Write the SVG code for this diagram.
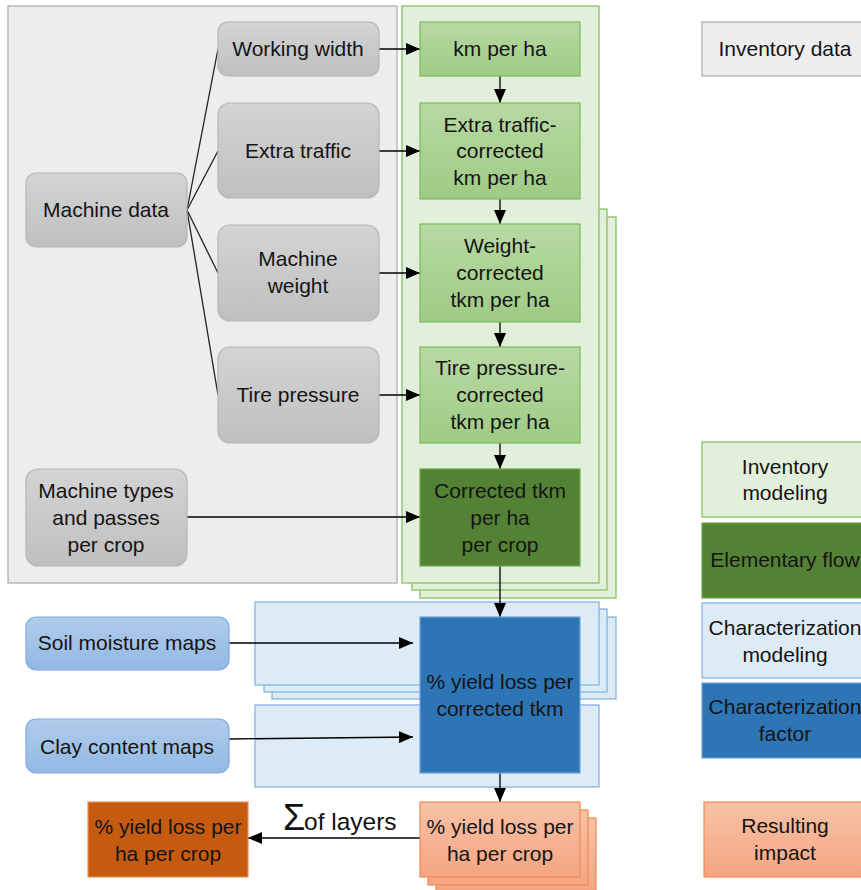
<svg xmlns="http://www.w3.org/2000/svg" width="861" height="890" viewBox="0 0 861 890">
<defs>
<linearGradient id="gGray" x1="0" y1="0" x2="0" y2="1"><stop offset="0" stop-color="#D4D4D4"/><stop offset="1" stop-color="#BFBFBF"/></linearGradient>
<linearGradient id="gGreen" x1="0" y1="0" x2="0" y2="1"><stop offset="0" stop-color="#B7D9A3"/><stop offset="1" stop-color="#9FCB84"/></linearGradient>
<linearGradient id="gBlue" x1="0" y1="0" x2="0" y2="1"><stop offset="0" stop-color="#B0CDEC"/><stop offset="1" stop-color="#92B8E3"/></linearGradient>
<linearGradient id="gOrange" x1="0" y1="0" x2="0" y2="1"><stop offset="0" stop-color="#F8C2A6"/><stop offset="1" stop-color="#F4A582"/></linearGradient>
<marker id="arr" markerUnits="userSpaceOnUse" markerWidth="14" markerHeight="12" viewBox="0 0 14 12" refX="14" refY="6" orient="auto"><path d="M0,0 L14,6 L0,12 z" fill="#000"/></marker>
</defs>
<style>
text{font-family:"Liberation Sans",Arial,sans-serif;font-size:21px;fill:#141414;text-anchor:middle}
.panelGray{fill:#EDEDED;stroke:#A9A9A9;stroke-width:1.2}
.panelGreen{fill:#E2EFDA;stroke:#86C263;stroke-width:1.3}
.panelBlue{fill:#DDEBF7;stroke:#7EB0E0;stroke-width:1.2}
.nGray{fill:url(#gGray);stroke:#B5B5B5;stroke-width:1.2}
.nGreen{fill:url(#gGreen);stroke:#7CBB5A;stroke-width:1.2}
.nDarkGreen{fill:#548235;stroke:#6DA94A;stroke-width:1.2}
.nBlue{fill:url(#gBlue);stroke:#7EAADB;stroke-width:1.2}
.nDarkBlue{fill:#2E75B6;stroke:#6FA3D8;stroke-width:1.2}
.nOrange{fill:url(#gOrange);stroke:#F08A52;stroke-width:1.2}
.nDarkOrange{fill:#C55A11;stroke:#F08A52;stroke-width:1.2}
.legGray{fill:#EDEDED;stroke:#A9A9A9;stroke-width:1.2}
.line{stroke:#222;stroke-width:1.3;fill:none}
.arrow{stroke:#000;stroke-width:1.3;fill:none;marker-end:url(#arr)}
.sum{text-anchor:start;fill:#111}
</style>

<g id="panels">
<rect class="panelGray" x="8" y="6" width="389" height="577"/>
<rect class="panelGreen" x="420" y="217" width="196" height="381"/>
<rect class="panelGreen" x="412" y="209" width="195" height="381"/>
<rect class="panelGreen" x="402" y="6" width="197" height="577"/>
<rect class="panelBlue" x="272" y="617" width="344" height="82"/>
<rect class="panelBlue" x="264" y="609" width="343" height="83"/>
<rect class="panelBlue" x="255" y="602" width="344" height="83"/>
<rect class="panelBlue" x="255" y="705" width="344" height="82"/>
</g>

<g id="connectors">
<path class="line" d="M187,210 L218,49"/>
<path class="line" d="M187,210 L218,151"/>
<path class="line" d="M187,210 L218,273"/>
<path class="line" d="M187,210 L218,395"/>
<path class="arrow" d="M379,49 L420,49"/>
<path class="arrow" d="M379,151 L420,151"/>
<path class="arrow" d="M379,273 L420,273"/>
<path class="arrow" d="M379,395 L420,395"/>
<path class="arrow" d="M187,517 L420,517"/>
<path class="arrow" d="M500,76 L500,103"/>
<path class="arrow" d="M500,199 L500,224"/>
<path class="arrow" d="M500,322 L500,347"/>
<path class="arrow" d="M500,443 L500,469"/>
<path class="arrow" d="M500,566 L500,617"/>
<path class="arrow" d="M500,773 L500,802"/>
<path class="arrow" d="M229,643 L413,643"/>
<path class="arrow" d="M229,739 L413,737"/>
<path class="arrow" d="M420,838 L248,838"/>
<text class="sum" x="283" y="830" style="font-size:36px">Σ</text>
<text class="sum" x="304" y="830" style="font-size:24.5px">of layers</text>
</g>

<g id="machine-data"><rect class="nGray" x="26" y="173" width="161" height="74" rx="10"/><text x="106" y="217">Machine data</text></g>
<g id="working-width"><rect class="nGray" x="218" y="22" width="161" height="54" rx="10"/><text x="298" y="56">Working width</text></g>
<g id="extra-traffic"><rect class="nGray" x="218" y="103" width="161" height="95" rx="12"/><text x="298" y="158">Extra traffic</text></g>
<g id="machine-weight"><rect class="nGray" x="218" y="225" width="161" height="96" rx="12"/><text x="298" y="266">Machine</text><text x="298" y="293">weight</text></g>
<g id="tire-pressure"><rect class="nGray" x="218" y="347" width="161" height="96" rx="12"/><text x="298" y="402">Tire pressure</text></g>
<g id="machine-types"><rect class="nGray" x="26" y="469" width="161" height="97" rx="12"/><text x="106" y="498">Machine types</text><text x="106" y="525">and passes</text><text x="106" y="552">per crop</text></g>

<g id="km-per-ha"><rect class="nGreen" x="420" y="22" width="160" height="54"/><text x="500" y="56">km per ha</text></g>
<g id="extra-corrected"><rect class="nGreen" x="420" y="103" width="160" height="96"/><text x="500" y="132">Extra traffic-</text><text x="500" y="158">corrected</text><text x="500" y="185">km per ha</text></g>
<g id="weight-corrected"><rect class="nGreen" x="420" y="224" width="160" height="98"/><text x="500" y="253">Weight-</text><text x="500" y="280">corrected</text><text x="500" y="307">tkm per ha</text></g>
<g id="tire-corrected"><rect class="nGreen" x="420" y="347" width="160" height="96"/><text x="500" y="375">Tire pressure-</text><text x="500" y="402">corrected</text><text x="500" y="429">tkm per ha</text></g>
<g id="corrected-tkm"><rect class="nDarkGreen" x="420" y="469" width="160" height="97"/><text x="500" y="498">Corrected tkm</text><text x="500" y="525">per ha</text><text x="500" y="552">per crop</text></g>

<g id="soil-moisture"><rect class="nBlue" x="26" y="617" width="203" height="53" rx="10"/><text x="127" y="650">Soil moisture maps</text></g>
<g id="clay-content"><rect class="nBlue" x="26" y="719" width="203" height="54" rx="10"/><text x="127" y="754">Clay content maps</text></g>
<g id="yield-loss-tkm"><rect class="nDarkBlue" x="420" y="617" width="160" height="156"/><text x="500" y="689">% yield loss per</text><text x="500" y="716">corrected tkm</text></g>

<g id="yield-loss-layers">
<rect class="nOrange" x="436" y="818" width="160" height="75"/>
<rect class="nOrange" x="428" y="810" width="160" height="75"/>
<rect class="nOrange" x="420" y="802" width="160" height="75"/>
<text x="500" y="834">% yield loss per</text><text x="500" y="861">ha per crop</text></g>
<g id="yield-loss-total"><rect class="nDarkOrange" x="88" y="802" width="160" height="75"/><text x="168" y="834">% yield loss per</text><text x="168" y="861">ha per crop</text></g>

<g id="legend-inventory-data"><rect class="legGray" x="702" y="22" width="170" height="54"/><text x="785" y="56">Inventory data</text></g>
<g id="legend-inventory-modeling"><rect class="panelGreen" x="702" y="442" width="170" height="75"/><text x="785" y="474">Inventory</text><text x="785" y="500">modeling</text></g>
<g id="legend-elementary-flow"><rect class="nDarkGreen" x="702" y="523" width="170" height="75"/><text x="785" y="567">Elementary flow</text></g>
<g id="legend-char-modeling"><rect class="panelBlue" x="702" y="603" width="170" height="75"/><text x="785" y="635">Characterization</text><text x="785" y="662">modeling</text></g>
<g id="legend-char-factor"><rect class="nDarkBlue" x="702" y="683" width="170" height="75"/><text x="785" y="714">Characterization</text><text x="785" y="741">factor</text></g>
<g id="legend-resulting-impact"><rect class="nOrange" x="704" y="802" width="170" height="75"/><text x="785" y="833">Resulting</text><text x="785" y="860">impact</text></g>
</svg>
